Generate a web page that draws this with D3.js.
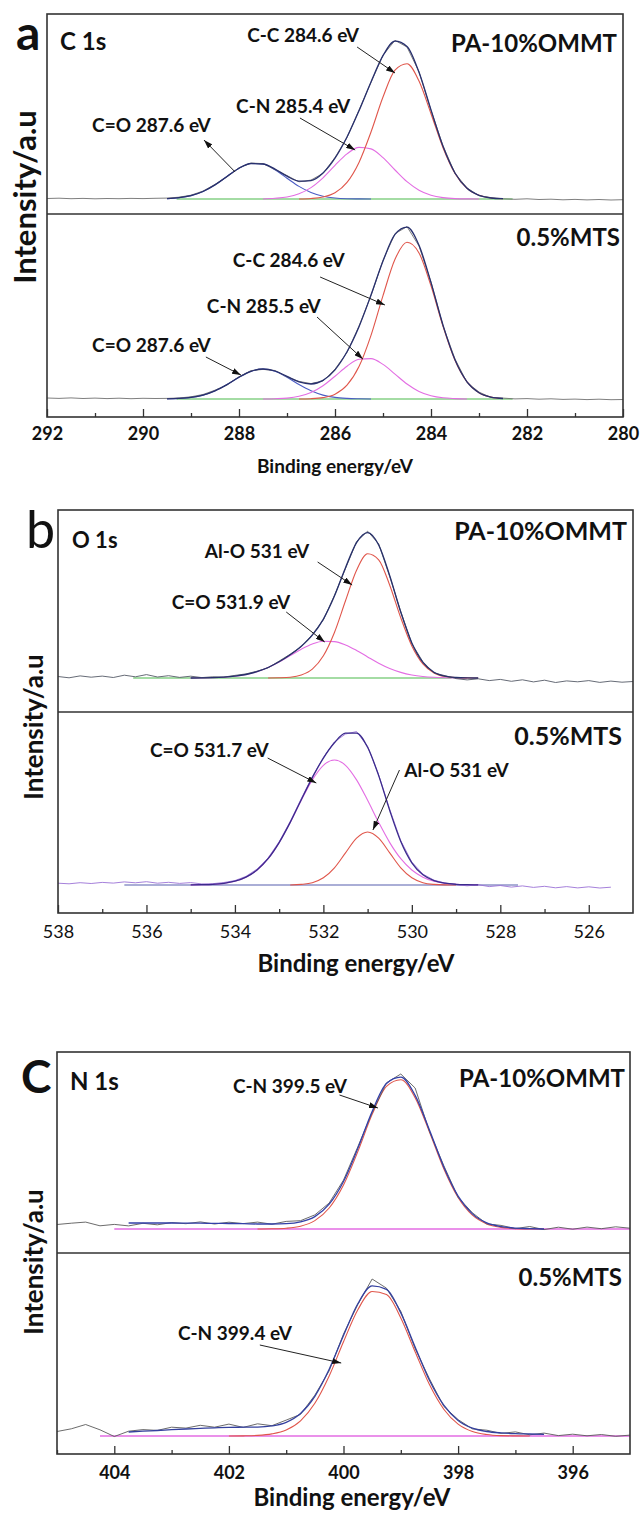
<!DOCTYPE html>
<html>
<head>
<meta charset="utf-8">
<script src="https://cdn.jsdelivr.net/npm/d3@7"></script>
<style>
  body { margin: 0; background: #fff; }
  text { font-family: Lato, "Open Sans", sans-serif; }
</style>
</head>
<body>
<div id="chart"></div>
<script>
// ---------- data (intensity in a.u., 0 = fitted background) ----------

// panel a: C 1s, fit grid 289.5 -> 282.5 eV, step 0.25; raw grid 292 -> 280
const aFitE = d3.range(289.5, 282.49, -0.25)
const aTopCO = [0.4,1.3,3.4,7.5,14.1,22.5,30.7,35.5,35.0,29.2,20.8,12.6,6.5,2.8,1.0,0.3,0.1,0,0,0,0,0,0,0,0,0,0,0,0]
const aTopCN = [0,0,0,0,0,0,0,0,0,0.7,2.0,5.2,11.4,21.2,33.6,45.1,51.6,50.1,41.3,29.0,17.3,8.8,3.8,1.4,0.4,0.1,0,0,0]
const aTopCC = [0,0,0,0,0,0,0,0,0,0,0,0,0.5,2.0,6.2,16.6,36.6,67.0,102.0,128.9,135.3,117.9,85.3,51.3,25.6,10.6,3.7,1.0,0.3]
const aTopFit = [0.4,1.3,3.4,7.5,14.1,22.5,30.7,35.5,35.0,29.9,22.8,17.8,18.4,26.0,40.8,62.0,88.3,117.1,143.3,157.9,152.6,126.7,89.1,52.7,26.0,10.7,3.7,1.0,0.3]
const aTopRaw = [0.5,0.8,0.3,0.6,0.2,0.5,0.3,0.6,0.4,0.7,0.9,1.8,3.8,7.9,14.6,22.1,31.2,35.9,35.4,29.5,23.4,17.2,18.9,25.6,41.5,61.4,88.9,116.6,143.9,158.6,152.0,127.3,88.6,53.2,25.6,11.1,3.3,1.4,0.2,-0.3,0.2,-0.5,-0.2,-0.8,-0.4,-0.9,-0.5,-1.0,-0.7]

const aBotCO = [0.2,0.6,1.6,3.9,8.2,14.4,21.7,27.7,30.0,27.7,21.7,14.4,8.2,3.9,1.6,0.6,0.2,0,0,0,0,0,0,0,0,0,0,0,0]
const aBotCN = [0,0,0,0,0,0,0,0,0,0.3,0.9,2.7,6.5,13.3,22.8,32.8,39.7,40.4,34.6,24.9,15.0,7.6,3.3,1.2,0.4,0,0,0,0]
const aBotCC = [0,0,0,0,0,0,0,0,0,0,0,0,0.3,1.4,4.8,13.8,32.4,63.6,103.4,139.7,156.8,146.1,113.1,72.7,38.8,17.2,6.3,1.9,0.5]
const aBotFit = [0.2,0.6,1.6,3.9,8.2,14.4,21.7,27.7,30.0,28.0,22.6,17.1,15.0,18.6,29.2,47.2,72.3,104.0,138.0,164.6,171.8,153.7,116.4,73.9,39.2,17.2,6.3,1.9,0.5]
const aBotRaw = [1.0,0.6,1.1,0.5,0.9,0.4,0.8,0.3,0.7,0.5,0.6,1.0,2.2,4.5,8.8,14.0,22.3,28.4,29.6,28.5,22.1,17.6,15.4,18.1,29.8,46.5,72.9,103.4,138.6,165.3,172.4,153.0,117.1,73.2,39.9,16.6,6.9,1.5,0.9,0.1,0.4,-0.2,0.2,-0.4,-0.1,-0.6,-0.2,-0.7,-0.5]

// panel b: O 1s, fit grid 535 -> 528.5 eV; raw from 538
const bFitE = d3.range(535, 528.49, -0.25)
const bTopCO = [0.05,0.13,0.34,0.81,1.75,3.46,6.29,10.5,16.0,22.4,28.8,34.0,36.7,36.4,33.1,27.6,21.1,14.8,9.5,5.6,3.0,1.5,0.7,0.3,0.1,0,0]
const bTopAlO = [0,0,0,0,0,0,0,0,0.2,0.8,3.0,8.9,22.2,45.5,77.2,107.8,124.3,118.2,92.8,60.1,32.1,14.1,5.1,1.5,0.4,0.1,0]
const bTopFit = [0,0.1,0.3,0.8,1.8,3.5,6.3,10.5,16.2,23.2,31.8,42.9,58.9,81.9,110.3,135.4,145.4,133.0,102.3,65.7,35.1,15.6,5.8,1.8,0.5,0.1,0]
const bTopRaw = [1.5,0.2,2.1,0.8,1.9,0.5,2.8,1.2,3.4,1.0,2.3,0.6,1.8,0.4,1.2,0.9,2.6,4.1,6.8,10.2,16.9,23.8,31.2,43.5,58.2,82.6,109.5,136.4,146.8,134.2,101.5,66.4,34.3,16.2,5.1,2.3,-0.6,-1.9,-0.8,-2.6,-1.4,-3.3,-1.8,-3.9,-2.2,-4.5,-2.9,-3.8,-2.6,-4.4,-3.1,-4.2,-3.5]

const bBotCO = [0.08,0.25,0.67,1.65,3.76,7.85,15.0,26.3,42.4,62.6,84.7,105.1,119.7,125,119.7,105.1,84.7,62.6,42.4,26.3,15.0,7.85,3.76,1.65,0.67,0.25,0.08]
const bBotAlO = [0,0,0,0,0,0,0,0,0,0,0.6,2.3,7.2,17.2,32.1,46.8,53,46.8,32.1,17.2,7.2,2.3,0.6,0.1,0,0,0]
const bBotFit = [0.1,0.3,0.7,1.7,3.8,7.9,15.0,26.3,42.4,62.6,85.3,107.4,126.9,142.2,151.8,151.9,137.7,109.4,74.5,43.5,22.2,10.2,4.4,1.8,0.7,0.3,0.1]
const bBotRaw = [1.8,1.2,2.3,1.5,2.6,1.9,3.1,2.2,3.3,1.8,2.7,1.6,2.4,1.1,1.3,2.5,4.4,8.6,15.9,27.1,43.2,63.5,86.4,108.3,127.5,143.1,151.0,153.4,138.6,110.1,75.6,44.2,22.9,10.9,4.8,1.9,0.4,-0.8,0.3,-1.6,-0.5,-2.1,-0.9,-2.4,-1.3,-2.8,-1.6,-2.9,-1.8,-3.0,-2.2]

// panel c: N 1s, fit grid 403.75 -> 396.5 eV; raw from 405
const cFitE = d3.range(403.75, 396.49, -0.25)
const cTopCN = [0,0,0,0,0,0,0,0,0,0,0.2,0.8,2.8,8.4,21.0,44.0,77.4,114.6,142.7,149.3,131.3,97.0,60.3,31.5,13.8,5.1,1.6,0.4,0.1,0]
const cTopFit = [6.0,6.0,6.0,6.0,5.9,5.8,5.6,5.5,5.3,5.0,5.0,5.3,7.1,12.4,24.8,47.5,80.7,117.6,145.5,151.8,133.6,99.0,62.1,33.0,15.1,6.1,2.4,0.9,0.4,0]
const cTopRaw = [4.5,5.8,6.9,3.2,4.6,3.1,5.7,4.2,6.4,5.3,7.1,5.0,6.8,5.4,6.9,4.8,7.6,8.3,14.1,26.0,48.9,82.2,116.4,146.2,155.0,141.0,97.6,63.4,31.7,16.2,5.1,3.6,0.4,2.5,-0.6,1.8,-0.2,1.9,0.3,2.2,0.8]

const cBotCN = [0,0,0,0,0,0,0,0,0.15,0.6,2.1,6.0,15.2,32.7,60.0,94.2,126.2,144.5,141.4,118.1,84.3,51.4,26.8,11.9,4.5,1.5,0.4,0.1,0,0]
const cBotFit = [4.0,4.8,5.5,6.3,7.0,7.6,8.2,8.7,8.8,8.9,10.1,13.7,22.5,39.7,66.7,100.5,132.2,150.2,146.7,123.1,89.0,55.7,30.8,15.6,7.8,4.5,3.1,2.4,2.0,1.7]
const cBotRaw = [4.5,7.2,11.5,6.2,-0.5,4.8,6.4,5.6,8.8,7.9,10.7,8.8,11.9,8.6,12.2,10.3,15.9,21.6,40.8,65.2,101.9,131.5,157.0,147.8,124.6,87.5,57.2,29.6,16.4,7.1,5.8,2.6,4.1,1.2,2.9,0.4,1.8,0.2,1.5,-0.3,0.9]

// background lines [start eV, end eV]
const aTopBase = [289.3, 282.3], aBotBase = [289.3, 282.3]
const bTopBase = [536.3, 529.1], bBotBase = [536.5, 527.6]
const cTopBase = [404.0, 395.0], cBotBase = [404.25, 395.0]

// ticks
const aMajor = [292, 290, 288, 286, 284, 282, 280], aMinor = [291, 289, 287, 285, 283, 281]
const bMajor = [538, 536, 534, 532, 530, 528, 526], bMinor = [537, 535, 533, 531, 529, 527]
const cMajor = [404, 402, 400, 398, 396], cMinor = [405, 403, 401, 399, 397]

// labels
const sampleNames = ['PA-10%OMMT', '0.5%MTS']
const coreLevels = ['C 1s', 'O 1s', 'N 1s']
const annA = ['C-C 284.6 eV', 'C-N 285.4 eV', 'C=O 287.6 eV', 'C-C 284.6 eV', 'C-N 285.5 eV', 'C=O 287.6 eV']
const annB = ['Al-O 531 eV', 'C=O 531.9 eV', 'C=O 531.7 eV', 'Al-O 531 eV']
const annC = ['C-N 399.5 eV', 'C-N 399.4 eV']

// ---------- drawing ----------
const svg = d3.select('#chart').append('svg').attr('width', 641).attr('height', 1515)

svg.append('defs').append('marker')
  .attr('id', 'arr').attr('viewBox', '0 0 9 6').attr('refX', 9).attr('refY', 3)
  .attr('markerWidth', 9).attr('markerHeight', 6).attr('markerUnits', 'userSpaceOnUse')
  .attr('orient', 'auto')
  .append('path').attr('d', 'M0,0 L9,3 L0,6 Z').attr('fill', '#111')

const red = '#e0564b', magenta = '#e36de3', blueCO = '#4b5cc4', green = '#86d086'

const zip = (grid, vals) => vals.map((v, i) => [grid[i], v])
const rawPts = (start, vals) => vals.map((v, i) => [start - i * 0.25, v])
function trim(pts) {
  let a = pts.findIndex(d => d[1] > 0.05)
  let b = pts.length - 1 - [...pts].reverse().findIndex(d => d[1] > 0.05)
  return pts.slice(Math.max(0, a - 1), Math.min(pts.length, b + 2))
}

function text(x, y, str, size, weight, anchor) {
  return svg.append('text').attr('x', x).attr('y', y).text(str)
    .attr('font-size', size).attr('font-weight', weight || 700)
    .attr('text-anchor', anchor || 'start').attr('fill', '#111')
}

function drawPanel(p) {
  const x = d3.scaleLinear().domain(p.domain).range([p.left, p.right])

  p.subs.forEach(s => {
    const y = d3.scaleLinear().domain([0, 100]).range([s.base, s.base - 100])
    const smooth = d3.line().x(d => x(d[0])).y(d => y(d[1])).curve(d3.curveMonotoneX)
    const plain = d3.line().x(d => x(d[0])).y(d => y(d[1]))

    svg.append('path').datum([[s.baseline[0], 0], [s.baseline[1], 0]]).attr('d', plain)
      .attr('fill', 'none').attr('stroke', s.baseColor).attr('stroke-width', 1.3)

    s.comps.forEach(c => {
      svg.append('path').datum(trim(zip(p.fitE, c.vals))).attr('d', smooth)
        .attr('fill', 'none').attr('stroke', c.color).attr('stroke-width', 1.1)
    })

    svg.append('path').datum(rawPts(p.domain[0], s.raw)).attr('d', plain)
      .attr('fill', 'none').attr('stroke', s.rawColor).attr('stroke-width', 0.9)

    svg.append('path').datum(zip(p.fitE, s.fit)).attr('d', smooth)
      .attr('fill', 'none').attr('stroke', s.fitColor).attr('stroke-width', 1.3)

    s.notes.forEach(n => {
      text(x(n.at[0]), y(n.at[1]), n.t, 19)
      svg.append('line')
        .attr('x1', x(n.from[0])).attr('y1', y(n.from[1]))
        .attr('x2', x(n.to[0])).attr('y2', y(n.to[1]))
        .attr('stroke', '#222').attr('stroke-width', 1).attr('marker-end', 'url(#arr)')
    })
  })

  // frame and divider
  svg.append('rect').attr('x', p.left).attr('y', p.top)
    .attr('width', p.right - p.left).attr('height', p.bottom - p.top)
    .attr('fill', 'none').attr('stroke', '#333').attr('stroke-width', 1.6)
  svg.append('line').attr('x1', p.left).attr('x2', p.right).attr('y1', p.mid).attr('y2', p.mid)
    .attr('stroke', '#333').attr('stroke-width', 1.6)

  // ticks pointing inward
  const major = svg.append('g').attr('transform', `translate(0,${p.bottom})`)
    .call(d3.axisBottom(x).tickValues(p.major).tickSize(-8).tickPadding(p.tickPad).tickFormat(d3.format('d')))
  major.select('.domain').remove()
  major.selectAll('line').attr('stroke', '#333').attr('stroke-width', 1.3)
  major.selectAll('text').attr('font-size', 18).attr('font-weight', p.tickWeight)
    .attr('fill', '#111').style('font-family', 'Lato, "Open Sans", sans-serif')
  const minor = svg.append('g').attr('transform', `translate(0,${p.bottom})`)
    .call(d3.axisBottom(x).tickValues(p.minor).tickSize(-4).tickFormat(''))
  minor.select('.domain').remove()
  minor.selectAll('line').attr('stroke', '#333').attr('stroke-width', 1.3)

  // texts
  text(p.letter.x, p.letter.y, p.letter.t, p.letter.size, p.letter.weight)
  text(p.core.x, p.core.y, p.core.t, p.core.size)
  text(p.s1.x, p.s1.y, sampleNames[0], p.s1.size, 700, 'end')
  text(p.s2.x, p.s2.y, sampleNames[1], p.s2.size, 700, 'end')
  svg.append('text').attr('transform', `translate(${p.ylab.x},${p.ylab.y}) rotate(-90)`)
    .attr('text-anchor', 'middle').attr('dominant-baseline', 'central')
    .attr('font-size', p.ylab.size).attr('font-weight', 700).attr('fill', '#111')
    .text('Intensity/a.u')
  text(p.xlab.x, p.xlab.y, 'Binding energy/eV', p.xlab.size, 700, 'middle')
}

drawPanel({
  domain: [292, 280], left: 47, right: 623, top: 14, mid: 214, bottom: 417,
  major: aMajor, minor: aMinor, tickPad: 10, tickWeight: 700, fitE: aFitE,
  letter: { t: 'a', x: 16, y: 50, size: 48, weight: 700 },
  core: { t: coreLevels[0], x: 60, y: 50, size: 24 },
  s1: { x: 617, y: 52, size: 24 }, s2: { x: 620, y: 246, size: 24 },
  ylab: { x: 24, y: 197, size: 31 }, xlab: { x: 335, y: 473, size: 19 },
  subs: [
    { base: 199, baseline: aTopBase, baseColor: green, raw: aTopRaw, rawColor: '#707070',
      fit: aTopFit, fitColor: '#28306e',
      comps: [{ vals: aTopCO, color: blueCO }, { vals: aTopCN, color: magenta }, { vals: aTopCC, color: red }],
      notes: [
        { t: annA[0], at: [287.83, 157], from: [285.54, 152], to: [284.75, 126] },
        { t: annA[1], at: [288.06, 86], from: [286.73, 81], to: [285.58, 49] },
        { t: annA[2], at: [291.06, 67], from: [288.08, 27], to: [288.73, 59] }
      ] },
    { base: 399, baseline: aBotBase, baseColor: green, raw: aBotRaw, rawColor: '#707070',
      fit: aBotFit, fitColor: '#28306e',
      comps: [{ vals: aBotCO, color: blueCO }, { vals: aBotCN, color: magenta }, { vals: aBotCC, color: red }],
      notes: [
        { t: annA[3], at: [288.13, 132], from: [286.31, 122], to: [284.96, 94] },
        { t: annA[4], at: [288.67, 86], from: [286.375, 82], to: [285.42, 40] },
        { t: annA[5], at: [291.06, 47], from: [288.69, 42], to: [287.96, 24] }
      ] }
  ]
})

drawPanel({
  domain: [538, 525], left: 58, right: 633, top: 510, mid: 712, bottom: 913,
  major: bMajor, minor: bMinor, tickPad: 12, tickWeight: 400, fitE: bFitE,
  letter: { t: 'b', x: 26, y: 548, size: 52, weight: 400 },
  core: { t: coreLevels[1], x: 72, y: 548, size: 22 },
  s1: { x: 627, y: 540, size: 25 }, s2: { x: 622, y: 745, size: 25 },
  ylab: { x: 33, y: 727, size: 26 }, xlab: { x: 356, y: 972, size: 24 },
  subs: [
    { base: 678, baseline: bTopBase, baseColor: green, raw: bTopRaw, rawColor: '#555a66',
      fit: bTopFit, fitColor: '#27306b',
      comps: [{ vals: bTopCO, color: magenta }, { vals: bTopAlO, color: red }],
      notes: [
        { t: annB[0], at: [534.68, 120], from: [532.13, 116], to: [531.35, 93] },
        { t: annB[1], at: [535.43, 69], from: [532.84, 66], to: [531.97, 36] }
      ] },
    { base: 885, baseline: bBotBase, baseColor: '#8e93c8', raw: bBotRaw, rawColor: '#9b72d6',
      fit: bBotFit, fitColor: '#3b2b8c',
      comps: [{ vals: bBotCO, color: magenta }, { vals: bBotAlO, color: red }],
      notes: [
        { t: annB[2], at: [535.92, 128], from: [533.26, 127], to: [532.16, 102] },
        { t: annB[3], at: [530.17, 108], from: [530.28, 115], to: [530.88, 55] }
      ] }
  ]
})

drawPanel({
  domain: [405, 395], left: 57, right: 630, top: 1052, mid: 1253, bottom: 1454,
  major: cMajor, minor: cMinor, tickPad: 12, tickWeight: 700, fitE: cFitE,
  letter: { t: 'C', x: 21, y: 1093, size: 46, weight: 700 },
  core: { t: coreLevels[2], x: 70, y: 1090, size: 24 },
  s1: { x: 625, y: 1087, size: 24 }, s2: { x: 622, y: 1286, size: 24 },
  ylab: { x: 33, y: 1262, size: 26 }, xlab: { x: 352, y: 1506, size: 24 },
  subs: [
    { base: 1229, baseline: cTopBase, baseColor: magenta, raw: cTopRaw, rawColor: '#5a5a5a',
      fit: cTopFit, fitColor: '#3340a8',
      comps: [{ vals: cTopCN, color: red }],
      notes: [
        { t: annC[0], at: [401.93, 136], from: [400.07, 134], to: [399.40, 121] }
      ] },
    { base: 1436, baseline: cBotBase, baseColor: magenta, raw: cBotRaw, rawColor: '#5a5a5a',
      fit: cBotFit, fitColor: '#34409e',
      comps: [{ vals: cBotCN, color: red }],
      notes: [
        { t: annC[1], at: [402.89, 96], from: [401.46, 91], to: [400.04, 73] }
      ] }
  ]
})
</script>
</body>
</html>
